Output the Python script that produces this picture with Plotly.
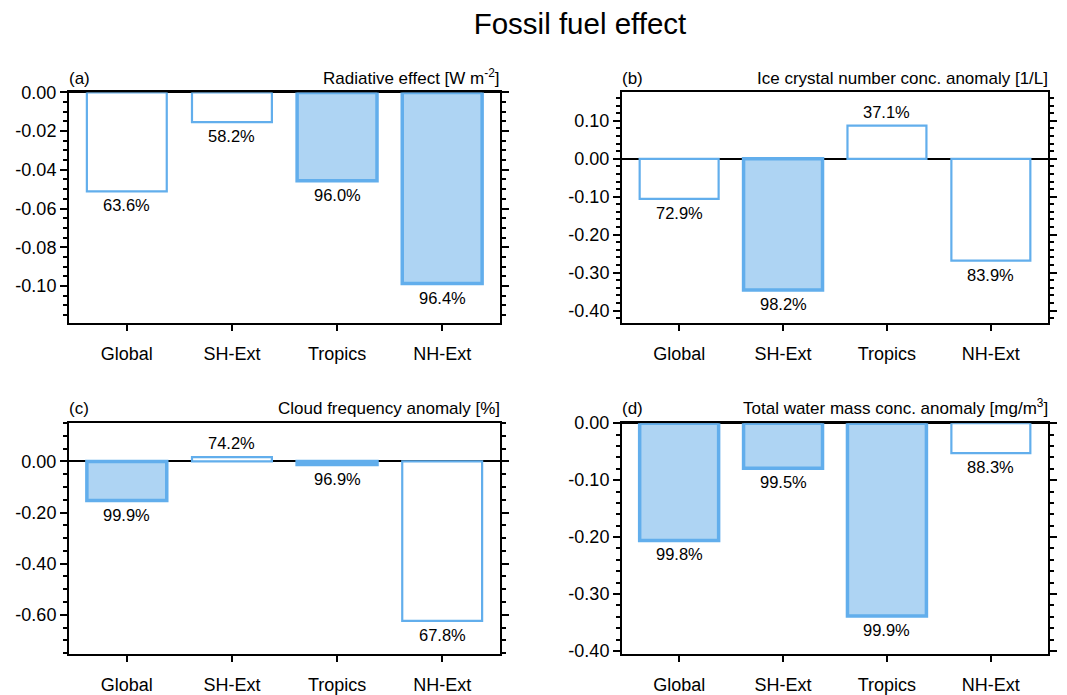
import plotly.graph_objects as go
from plotly.subplots import make_subplots

W, H = 1067, 695

regions = ["Global", "SH-Ext", "Tropics", "NH-Ext"]

# bar values (fossil fuel minus control) and confidence levels [%]
rad_effect = [-0.0511, -0.0153, -0.0457, -0.0988]
rad_conf = [63.6, 58.2, 96.0, 96.4]
ice_number = [-0.1055, -0.346, 0.0875, -0.2687]
ice_conf = [72.9, 98.2, 37.1, 83.9]
cloud_freq = [-0.153, 0.017, -0.012, -0.624]
cloud_conf = [99.9, 74.2, 96.9, 67.8]
water_mass = [-0.206, -0.079, -0.3386, -0.0527]
water_conf = [99.8, 99.5, 99.9, 88.3]

# y tick labels per panel
ticks_a = [0.0, -0.02, -0.04, -0.06, -0.08, -0.10]
ticks_b = [0.10, 0.0, -0.10, -0.20, -0.30, -0.40]
ticks_c = [0.0, -0.20, -0.40, -0.60]
ticks_d = [0.0, -0.10, -0.20, -0.30, -0.40]

LINE = "rgb(98,174,236)"
FILL = "rgb(174,212,243)"
SIG = 95.0
FONT = "Liberation Sans, Arial, Helvetica, sans-serif"


def px_x(a, b):
    return [a / W, b / W]


def px_y(top, bottom):
    return [1 - bottom / H, 1 - top / H]


panels = [
    dict(vals=rad_effect, conf=rad_conf, ticks=ticks_a, yr=[-0.119, 0.0], minor=0.005,
         tag="(a)", name="Radiative effect [W m<sup>-2</sup>]",
         dx=px_x(69, 500), dy=px_y(84.5, 320.5)),
    dict(vals=ice_number, conf=ice_conf, ticks=ticks_b, yr=[-0.432, 0.175], minor=0.02,
         tag="(b)", name="Ice crystal number conc. anomaly [1/L]",
         dx=px_x(622, 1048), dy=px_y(84.5, 320.5)),
    dict(vals=cloud_freq, conf=cloud_conf, ticks=ticks_c, yr=[-0.753, 0.15], minor=0.05,
         tag="(c)", name="Cloud frequency anomaly [%]",
         dx=px_x(69, 500), dy=px_y(423.5, 660)),
    dict(vals=water_mass, conf=water_conf, ticks=ticks_d, yr=[-0.405, 0.0], minor=0.02,
         tag="(d)", name="Total water mass conc. anomaly [mg/m<sup>3</sup>]",
         dx=px_x(622, 1048), dy=px_y(423.5, 660)),
]

fig = make_subplots(rows=2, cols=2)

for i, p in enumerate(panels):
    row, col = i // 2 + 1, i % 2 + 1
    sfx = "" if i == 0 else str(i + 1)
    sig = [c >= SIG for c in p["conf"]]
    fig.add_trace(go.Bar(
        x=regions, y=p["vals"], width=0.76,
        marker=dict(color=[FILL if s else "white" for s in sig],
                    line=dict(color=LINE, width=[3.5 if s else 2.2 for s in sig])),
        showlegend=False, hoverinfo="skip"), row=row, col=col)

    # percentage labels just beyond the bar ends
    for r, v, c in zip(regions, p["vals"], p["conf"]):
        fig.add_annotation(x=r, y=v, xref="x" + sfx, yref="y" + sfx,
                           text=f"{c:.1f}%", showarrow=False,
                           yanchor="top" if v < 0 else "bottom",
                           yshift=-3 if v < 0 else 3,
                           font=dict(size=16.5, color="black", family=FONT))

    fig.layout["xaxis" + sfx].update(
        domain=p["dx"], range=[-0.55, 3.55], showline=True, linecolor="black",
        linewidth=2, mirror=True, ticks="outside", ticklen=6, tickwidth=2,
        tickcolor="black", showgrid=False, zeroline=False, ticklabelstandoff=8,
        tickfont=dict(size=18, color="black", family=FONT))
    fig.layout["yaxis" + sfx].update(
        domain=p["dy"], range=p["yr"], showline=True, linecolor="black",
        linewidth=2, mirror="ticks", ticks="outside", ticklen=7, tickwidth=2,
        tickcolor="black", showgrid=False,
        zeroline=True, zerolinecolor="black", zerolinewidth=1.5,
        tickmode="array", tickvals=p["ticks"], ticktext=[f"{t:.2f}" for t in p["ticks"]],
        minor=dict(ticks="outside", ticklen=4, tickwidth=2, tickcolor="black",
                   tick0=0, dtick=p["minor"], showgrid=False),
        tickfont=dict(size=18, color="black", family=FONT))

    fig.add_annotation(x=p["dx"][0], y=p["dy"][1] + 3 / H, xref="paper", yref="paper",
                       text=p["tag"], showarrow=False, xanchor="left", yanchor="bottom",
                       xshift=-2, font=dict(size=17, color="black", family=FONT))
    fig.add_annotation(x=p["dx"][1], y=p["dy"][1] + 3 / H, xref="paper", yref="paper",
                       text=p["name"], showarrow=False, xanchor="right", yanchor="bottom",
                       xshift=2, font=dict(size=17, color="black", family=FONT))

fig.update_layout(
    width=W, height=H, margin=dict(l=0, r=0, t=0, b=0),
    paper_bgcolor="white", plot_bgcolor="white",
    title=dict(text="Fossil fuel effect", x=580 / W, xanchor="center",
               y=1 - 24 / H, yanchor="middle",
               font=dict(size=29.5, color="black", family=FONT)),
)

fig.write_html("out.html", config={"displayModeBar": False},
               post_script="document.body.style.margin='0';")
